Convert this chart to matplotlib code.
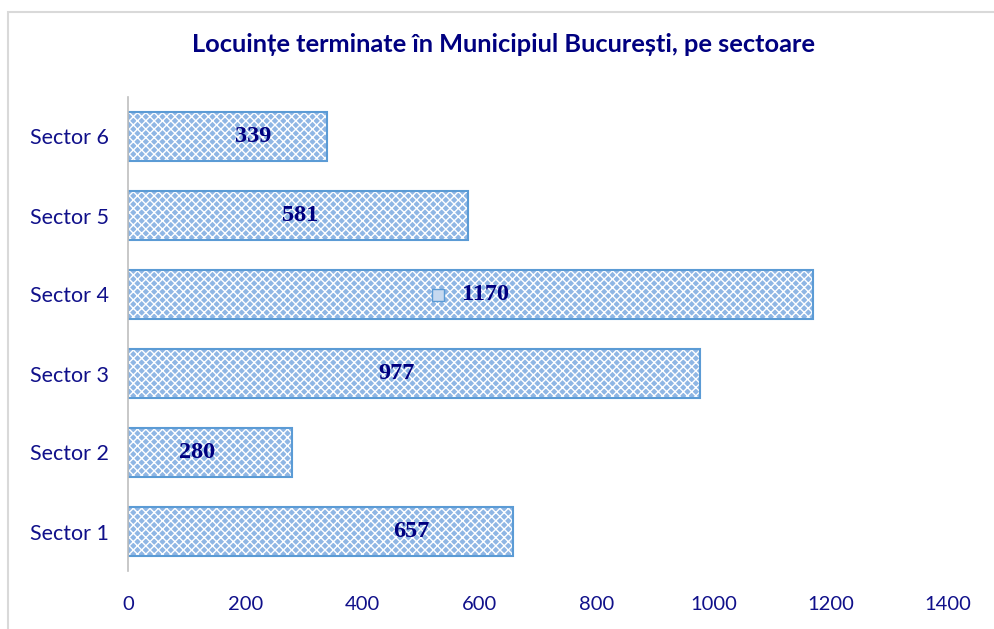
import matplotlib
matplotlib.use("Agg")
import matplotlib.pyplot as plt
from matplotlib.patches import Rectangle

categories = ["Sector 1", "Sector 2", "Sector 3", "Sector 4", "Sector 5", "Sector 6"]
values = [657, 280, 977, 1170, 581, 339]
x_ticks = [0, 200, 400, 600, 800, 1000, 1200, 1400]
title = "Locuințe terminate în Municipiul București, pe sectoare"

# label x positions (data units) as placed in the original
label_x = [483, 118, 458, 610, 294, 213]

navy = "#10108a"
plt.rcParams['hatch.linewidth'] = 1.0

fig = plt.figure(figsize=(9.95, 6.29), dpi=100)
fig.patches.append(Rectangle((8/995, -0.1), 1.2, 1 - 12/629 + 0.1, transform=fig.transFigure,
                             fill=False, edgecolor="#d9d9d9", linewidth=1.5))
ax = fig.add_axes([128/995, 1 - 571/629, (948-128)/995, (571-97)/629])

y = list(range(len(categories)))
ax.barh(y, values, height=0.61, color="#8fb6e4", edgecolor="white", hatch="xxxx", linewidth=0)
ax.barh(y, values, height=0.61, fill=False, edgecolor="#5b9bd5", linewidth=1.5)

for yi, v, lx in zip(y, values, label_x):
    ax.text(lx, yi, str(v), ha="center", va="center", fontsize=17.5, fontweight="bold",
            family="Liberation Serif", color="#00007f")
    if v == max(values):
        ax.plot([lx - 80], [yi], marker="s", markersize=8, markerfacecolor="#c6d9f0",
                markeredgecolor="#5b9bd5", markeredgewidth=1)

ax.set_xlim(0, 1400)
ax.set_ylim(-0.5, len(categories) - 0.5)
ax.set_xticks(x_ticks)
ax.set_xticklabels([str(t) for t in x_ticks])
ax.set_yticks(y)
ax.set_yticklabels(categories)
for s in ["top", "right", "bottom"]:
    ax.spines[s].set_visible(False)
ax.spines["left"].set_color("#bfbfbf")
ax.spines["left"].set_linewidth(1.2)
ax.tick_params(axis="both", length=0, labelcolor=navy, labelsize=14.5)
ax.tick_params(axis="y", labelsize=15.5)
ax.tick_params(axis="x", pad=18)
ax.tick_params(axis="y", pad=14)
for lbl in ax.get_xticklabels() + ax.get_yticklabels():
    lbl.set_family("Lato")

fig.text(503/995, 1 - 45/629, title, ha="center", va="center", fontsize=18.3,
         fontweight="bold", family="Lato", color="#000080")

fig.savefig("out.png", dpi=100)
